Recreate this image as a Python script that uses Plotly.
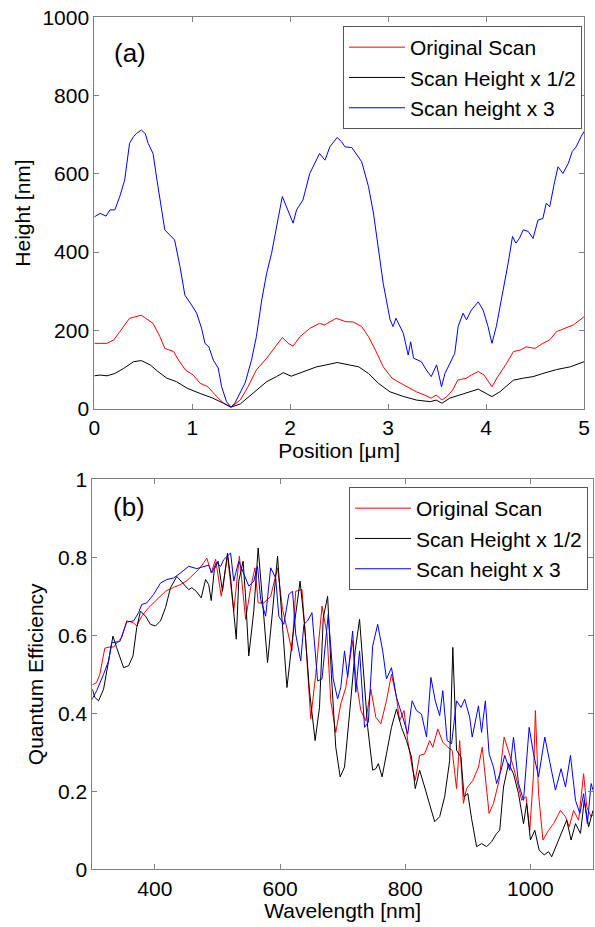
import plotly.graph_objects as go

# ---------------- Panel (a): height profiles ----------------
pos_orig = [0.00, 0.13, 0.20, 0.26, 0.36, 0.48, 0.53, 0.60, 0.67, 0.72, 0.81, 0.86, 0.93, 1.01, 1.08, 1.16,
            1.25, 1.32, 1.395, 1.49, 1.57, 1.655, 1.76, 1.84, 1.92, 1.98, 2.03, 2.10, 2.20, 2.30, 2.35, 2.47,
            2.57, 2.64, 2.73, 2.80, 2.87, 2.95, 3.04, 3.10, 3.16, 3.22, 3.29, 3.37, 3.44, 3.49, 3.55, 3.60,
            3.66, 3.71, 3.80, 3.85, 3.92, 3.98, 4.06, 4.12, 4.21, 4.28, 4.35, 4.41, 4.50, 4.58, 4.65, 4.72,
            4.80, 4.89, 4.96, 5.00]
h_orig = [167, 167, 176, 197, 231, 239, 231, 218, 184, 154, 146, 124, 99, 86, 65, 56,
          31, 14, 4, 22, 56, 99, 129, 154, 182, 167, 160, 184, 205, 218, 214, 231,
          222, 222, 210, 184, 150, 107, 78, 69, 61, 52, 43, 35, 27, 35, 22, 31,
          48, 73, 78, 86, 95, 86, 56, 82, 116, 146, 150, 158, 154, 167, 176, 197,
          205, 214, 227, 235]

pos_half = [0.00, 0.06, 0.13, 0.21, 0.30, 0.40, 0.48, 0.57, 0.65, 0.74, 0.84, 0.95, 1.08, 1.21, 1.32, 1.395,
            1.49, 1.62, 1.76, 1.86, 1.93, 2.01, 2.14, 2.27, 2.37, 2.48, 2.60, 2.70, 2.80, 2.90, 3.02, 3.16,
            3.29, 3.43, 3.49, 3.55, 3.63, 3.77, 3.92, 4.00, 4.06, 4.14, 4.28, 4.38, 4.48, 4.58, 4.72, 4.86,
            4.96, 5.00]
h_half = [84, 86, 84, 90, 103, 120, 123, 112, 95, 78, 69, 52, 39, 27, 14, 4,
          12, 39, 69, 82, 92, 83, 95, 107, 112, 118, 112, 107, 90, 65, 43, 31,
          22, 18, 22, 14, 27, 39, 50, 39, 31, 43, 73, 78, 82, 90, 100, 107,
          116, 120]

pos_x3 = [0.00, 0.06, 0.12, 0.16, 0.21, 0.26, 0.31, 0.36, 0.40, 0.43, 0.48, 0.52, 0.55, 0.60, 0.64, 0.68,
          0.72, 0.77, 0.82, 0.875, 0.925, 0.98, 1.045, 1.095, 1.13, 1.17, 1.215, 1.265, 1.30, 1.35, 1.395,
          1.435, 1.49, 1.54, 1.605, 1.655, 1.71, 1.76, 1.81, 1.845, 1.88, 1.92, 1.96, 2.03, 2.065, 2.13,
          2.20, 2.25, 2.30, 2.355, 2.405, 2.48, 2.525, 2.56, 2.63, 2.73, 2.80, 2.85, 2.90, 2.95, 3.02, 3.05,
          3.08, 3.155, 3.205, 3.23, 3.26, 3.34, 3.39, 3.44, 3.495, 3.545, 3.58, 3.63, 3.68, 3.715, 3.765,
          3.80, 3.85, 3.92, 3.97, 4.02, 4.06, 4.105, 4.17, 4.225, 4.27, 4.305, 4.34, 4.38, 4.43, 4.48, 4.53,
          4.58, 4.615, 4.65, 4.70, 4.735, 4.785, 4.84, 4.88, 4.92, 4.97, 5.00]
h_x3 = [490, 499, 492, 508, 508, 542, 584, 678, 695, 703, 712, 703, 678, 652, 584, 516,
        457, 444, 431, 363, 290, 270, 244, 206, 167, 158, 124, 104, 56, 18, 4,
        14, 40, 66, 124, 184, 278, 346, 397, 448, 490, 542, 516, 474, 508, 533,
        601, 627, 652, 635, 669, 693, 682, 669, 667, 631, 567, 500, 414, 320, 227, 210,
        231, 193, 137, 171, 129, 120, 99, 82, 112, 56, 90, 116, 141, 210, 244,
        227, 252, 273, 252, 210, 167, 210, 295, 371, 440, 423, 435, 457, 453, 435, 482,
        486, 525, 516, 580, 618, 601, 627, 657, 669, 695, 708]

# ---------------- Panel (b): quantum efficiency ----------------
wl_orig = [300, 307, 312, 320, 328, 334, 342, 347, 355, 366, 371, 379, 390, 403, 417, 430, 441, 451, 462,
           470, 478, 483, 490, 497, 506, 516, 526, 535, 545, 553, 560, 565, 574, 585, 596, 604, 612, 619,
           625, 635, 641, 649, 657, 667, 675, 681, 689, 697, 705, 716, 721, 729, 737, 745, 753, 761, 770,
           778, 786, 791, 798, 804, 811, 816, 823, 831, 839, 844, 852, 860, 868, 875, 882, 887, 893, 898,
           908, 917, 923, 930, 934, 941, 950, 958, 965, 973, 981, 986, 993, 999, 1005, 1008, 1013, 1020,
           1029, 1037, 1048, 1056, 1062, 1069, 1077, 1085, 1090, 1097, 1100]
qe_orig = [0.473, 0.479, 0.50, 0.567, 0.570, 0.570, 0.586, 0.594, 0.637, 0.632, 0.624, 0.649, 0.671, 0.692,
           0.713, 0.723, 0.730, 0.740, 0.756, 0.769, 0.786, 0.798, 0.760, 0.795, 0.70, 0.803, 0.662, 0.803,
           0.641, 0.722, 0.773, 0.683, 0.683, 0.70, 0.773, 0.666, 0.611, 0.560, 0.713, 0.717, 0.586, 0.386,
           0.50, 0.675, 0.603, 0.432, 0.351, 0.424, 0.466, 0.586, 0.492, 0.407, 0.381, 0.462, 0.390, 0.373,
           0.432, 0.50, 0.441, 0.381, 0.407, 0.330, 0.262, 0.228, 0.292, 0.296, 0.330, 0.313, 0.360, 0.326,
           0.313, 0.305, 0.207, 0.330, 0.169, 0.207, 0.228, 0.262, 0.313, 0.194, 0.143, 0.169, 0.228, 0.339,
           0.305, 0.262, 0.211, 0.177, 0.186, 0.100, 0.245, 0.407, 0.194, 0.075, 0.100, 0.117, 0.151, 0.135,
           0.109, 0.151, 0.126, 0.245, 0.160, 0.134, 0.140]

wl_half = [300, 304, 310, 318, 326, 333, 339, 350, 358, 365, 371, 377, 385, 393, 401, 409, 417, 425, 435,
           446, 454, 459, 466, 474, 481, 486, 490, 495, 501, 508, 516, 521, 530, 534, 541, 545, 550, 558,
           565, 572, 580, 588, 596, 601, 611, 620, 632, 639, 647, 656, 663, 669, 676, 682, 689, 696, 703,
           711, 720, 727, 734, 740, 748, 753, 757, 763, 770, 778, 786, 794, 802, 810, 816, 823, 831, 839,
           847, 855, 863, 871, 876, 882, 889, 894, 900, 906, 914, 922, 930, 938, 946, 951, 957, 965, 973,
           981, 989, 994, 1000, 1007, 1014, 1022, 1029, 1034, 1041, 1050, 1058, 1065, 1072, 1080, 1086,
           1093, 1100]
qe_half = [0.462, 0.441, 0.432, 0.462, 0.534, 0.598, 0.568, 0.517, 0.522, 0.547, 0.620, 0.662, 0.649, 0.628,
           0.624, 0.637, 0.671, 0.722, 0.751, 0.730, 0.717, 0.722, 0.713, 0.696, 0.743, 0.730, 0.689, 0.769,
           0.790, 0.713, 0.811, 0.747, 0.590, 0.739, 0.790, 0.696, 0.547, 0.662, 0.824, 0.688, 0.530, 0.662,
           0.803, 0.688, 0.466, 0.594, 0.739, 0.628, 0.458, 0.330, 0.415, 0.645, 0.700, 0.50, 0.313, 0.237,
           0.262, 0.398, 0.560, 0.641, 0.50, 0.364, 0.254, 0.258, 0.271, 0.237, 0.296, 0.364, 0.411, 0.364,
           0.330, 0.288, 0.207, 0.254, 0.211, 0.169, 0.122, 0.135, 0.186, 0.279, 0.569, 0.305, 0.288, 0.186,
           0.194, 0.130, 0.058, 0.066, 0.058, 0.071, 0.092, 0.100, 0.211, 0.271, 0.245, 0.194, 0.117, 0.169,
           0.075, 0.100, 0.049, 0.037, 0.045, 0.032, 0.058, 0.092, 0.126, 0.075, 0.117, 0.092, 0.177, 0.109,
           0.151]

wl_x3 = [299, 307, 318, 326, 331, 339, 344, 350, 355, 366, 374, 379, 387, 398, 409, 419, 430, 441, 454,
         467, 478, 486, 491, 498, 505, 510, 521, 526, 534, 542, 550, 558, 564, 569, 577, 585, 593, 598, 606,
         614, 620, 625, 633, 638, 644, 651, 660, 667, 677, 685, 692, 697, 703, 708, 716, 721, 727, 735, 741,
         748, 756, 764, 770, 778, 786, 796, 804, 811, 818, 826, 834, 841, 848, 855, 860, 867, 874, 882, 889,
         895, 903, 907, 917, 922, 928, 934, 941, 946, 953, 959, 967, 973, 981, 989, 998, 1005, 1013, 1023,
         1034, 1040, 1049, 1056, 1064, 1072, 1079, 1085, 1091, 1097, 1100]
qe_x3 = [0.434, 0.458, 0.50, 0.534, 0.581, 0.583, 0.584, 0.611, 0.634, 0.637, 0.658, 0.679, 0.683, 0.705,
         0.734, 0.743, 0.747, 0.760, 0.777, 0.771, 0.777, 0.780, 0.760, 0.786, 0.777, 0.794, 0.811, 0.739,
         0.790, 0.756, 0.726, 0.739, 0.777, 0.692, 0.649, 0.773, 0.747, 0.649, 0.628, 0.705, 0.713, 0.603,
         0.534, 0.628, 0.637, 0.658, 0.483, 0.488, 0.654, 0.488, 0.437, 0.466, 0.560, 0.492, 0.611, 0.454,
         0.560, 0.364, 0.377, 0.573, 0.628, 0.560, 0.488, 0.517, 0.441, 0.390, 0.347, 0.432, 0.407, 0.398,
         0.339, 0.492, 0.432, 0.394, 0.458, 0.330, 0.322, 0.432, 0.415, 0.436, 0.390, 0.339, 0.419, 0.351,
         0.432, 0.296, 0.262, 0.220, 0.254, 0.292, 0.254, 0.339, 0.220, 0.177, 0.364, 0.296, 0.237, 0.339,
         0.245, 0.203, 0.258, 0.211, 0.292, 0.177, 0.143, 0.194, 0.117, 0.220, 0.203]

names = ["Original Scan", "Scan Height x 1/2", "Scan height x 3"]
colors = ["#ff0000", "#000000", "#0000ff"]

W, H = 595, 927
FONT = "Liberation Sans, Arial, sans-serif"
FS = 21
LFS = 21

fig = go.Figure()
top_sets = [(pos_orig, h_orig), (pos_half, h_half), (pos_x3, h_x3)]
bot_sets = [(wl_orig, qe_orig), (wl_half, qe_half), (wl_x3, qe_x3)]
for (x, y), n, c in zip(top_sets, names, colors):
    fig.add_trace(go.Scatter(x=x, y=y, mode="lines", name=n, line=dict(color=c, width=1),
                             xaxis="x", yaxis="y", legend="legend"))
for (x, y), n, c in zip(bot_sets, names, colors):
    fig.add_trace(go.Scatter(x=x, y=y, mode="lines", name=n, line=dict(color=c, width=1),
                             xaxis="x2", yaxis="y2", legend="legend2"))

axis_common = dict(showline=True, linecolor="#7f7f7f", linewidth=1, mirror="ticks",
                   ticks="inside", ticklen=5, tickcolor="#7f7f7f", showgrid=False, zeroline=False,
                   automargin=False,
                   tickfont=dict(family=FONT, size=FS, color="black"),
                   title_font=dict(family=FONT, size=FS, color="black"))

def px(v):
    return v / W

def py(v):
    return 1 - v / H

fig.update_layout(
    template="none",
    width=W, height=H,
    margin=dict(l=0, r=0, t=0, b=0, pad=0),
    paper_bgcolor="white", plot_bgcolor="white",
    font=dict(family=FONT, size=FS, color="black"),
    xaxis=dict(domain=[px(94.3), px(584)], anchor="y", range=[0, 5], tickvals=[0, 1, 2, 3, 4, 5],
               title=dict(text="Position [\u03bcm]", standoff=4), **axis_common),
    yaxis=dict(domain=[py(408.7), py(17.3)], anchor="x", range=[0, 1000],
               tickvals=[0, 200, 400, 600, 800, 1000],
               title=dict(text="Height [nm]", standoff=6), **axis_common),
    xaxis2=dict(domain=[px(92.3), px(593)], anchor="y2", range=[300, 1100], tickvals=[400, 600, 800, 1000],
                title=dict(text="Wavelength [nm]", standoff=4), **axis_common),
    yaxis2=dict(domain=[py(869.3), py(479.3)], anchor="x2", range=[0, 1],
                tickvals=[0, 0.2, 0.4, 0.6, 0.8, 1], ticktext=["0", "0.2", "0.4", "0.6", "0.8", "1"],
                title=dict(text="Quantum Efficiency", standoff=8), **axis_common),
    legend=dict(x=px(582), y=py(26), xanchor="right", yanchor="top", bgcolor="white",
                bordercolor="#555555", borderwidth=1, font=dict(family=FONT, size=LFS, color="black"),
                itemwidth=56, tracegroupgap=0),
    legend2=dict(x=px(588), y=py(487), xanchor="right", yanchor="top", bgcolor="white",
                 bordercolor="#555555", borderwidth=1, font=dict(family=FONT, size=LFS, color="black"),
                 itemwidth=56, tracegroupgap=0),
    annotations=[
        dict(text="(a)", x=px(130), y=py(53), xref="paper", yref="paper", showarrow=False,
             xanchor="center", yanchor="middle",
             font=dict(family=FONT, size=26, color="black")),
        dict(text="(b)", x=px(129), y=py(507), xref="paper", yref="paper", showarrow=False,
             xanchor="center", yanchor="middle",
             font=dict(family=FONT, size=26, color="black")),
    ],
    showlegend=True,
)

fig.write_html("out.html")
